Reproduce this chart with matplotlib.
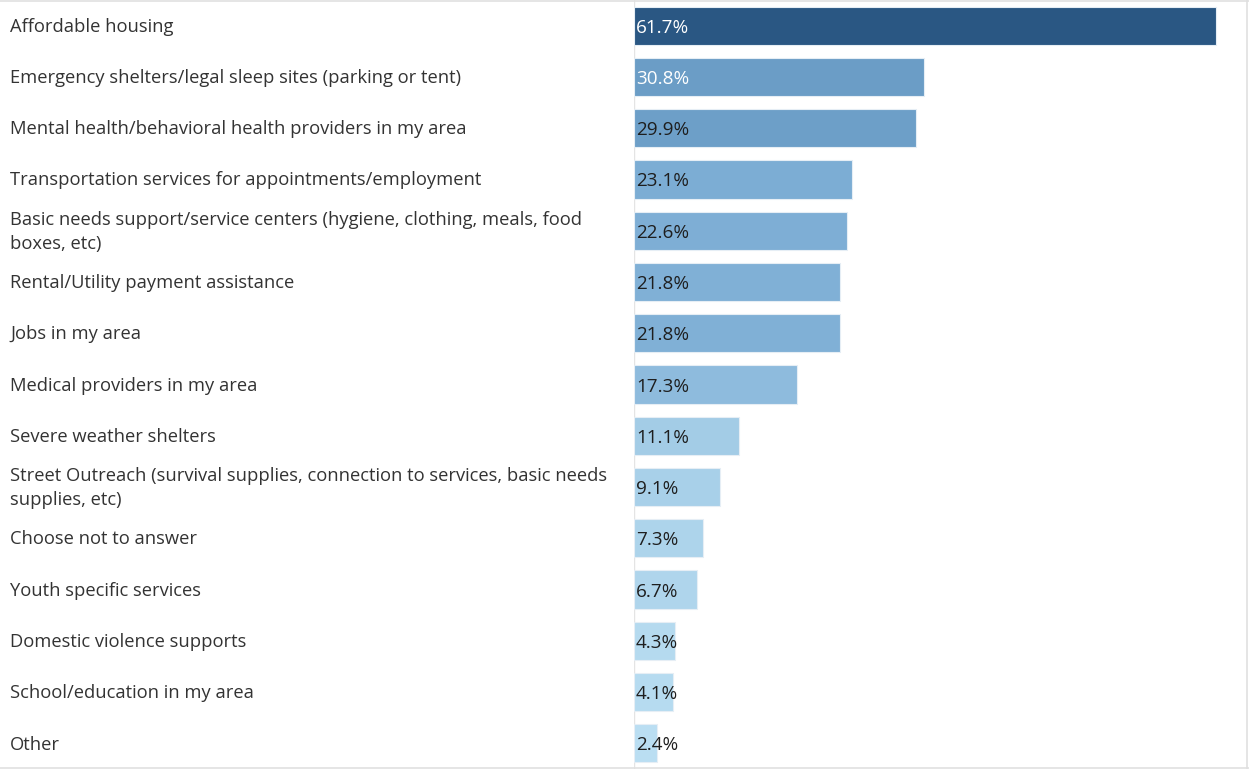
import matplotlib
matplotlib.use("Agg")
import matplotlib.pyplot as plt
from matplotlib.colors import LinearSegmentedColormap, Normalize
from matplotlib.lines import Line2D

categories = [
    "Affordable housing",
    "Emergency shelters/legal sleep sites (parking or tent)",
    "Mental health/behavioral health providers in my area",
    "Transportation services for appointments/employment",
    "Basic needs support/service centers (hygiene, clothing, meals, food\nboxes, etc)",
    "Rental/Utility payment assistance",
    "Jobs in my area",
    "Medical providers in my area",
    "Severe weather shelters",
    "Street Outreach (survival supplies, connection to services, basic needs\nsupplies, etc)",
    "Choose not to answer",
    "Youth specific services",
    "Domestic violence supports",
    "School/education in my area",
    "Other",
]
values = [61.7, 30.8, 29.9, 23.1, 22.6, 21.8, 21.8, 17.3, 11.1, 9.1, 7.3, 6.7, 4.3, 4.1, 2.4]

W, H, DPI = 1249, 769, 100
fig = plt.figure(figsize=(W / DPI, H / DPI), dpi=DPI)
fig.patch.set_facecolor("white")

# plot area: bars start right after the label column
ax_left, ax_right = 634 / W, 1247 / W
ax = fig.add_axes([ax_left, 0.0, ax_right - ax_left, 1.0])

cmap = LinearSegmentedColormap.from_list(
    "blues",
    [(0.0, "#BADEF2"), (0.15, "#A2CBE6"), (0.33, "#7FAFD6"),
     (0.48, "#6B9DC6"), (1.0, "#2A5783")],
)
norm = Normalize(vmin=min(values), vmax=max(values))
colors = [cmap(norm(v)) for v in values]

y = list(range(len(categories)))
ax.barh(y, values, height=0.745, color=colors, edgecolor="#E6EEF5", linewidth=0.8, zorder=2)

ax.set_xlim(0, 65.0)
ax.set_ylim(len(categories) - 0.5, -0.5)
ax.axis("off")

# axis baseline
ax.axvline(0, color="#E4E4E4", linewidth=1.0, zorder=1)

font = ["Open Sans", "DejaVu Sans"]
for i, (v, cat) in enumerate(zip(values, categories)):
    tc = "white" if v > 30 else "#1E1E1E"
    ax.text(0.2, i, f"{v:.1f}%", va="center_baseline", ha="left", fontsize=13.6,
            color=tc, family=font, zorder=3)
    fig.text(10 / W, 1 - (26.5 + 51.29 * i) / H, cat, va="center", ha="left",
             fontsize=13.2, color="#333333", family=font, linespacing=1.45)

# thin frame on top, right and bottom
frame = "#E0E0E0"
fig.add_artist(Line2D([0, 1], [1 - 0.5 / H, 1 - 0.5 / H], color=frame, lw=1.2, transform=fig.transFigure))
fig.add_artist(Line2D([0, 1], [1.5 / H, 1.5 / H], color=frame, lw=1.2, transform=fig.transFigure))
fig.add_artist(Line2D([1246.5 / W, 1246.5 / W], [0, 1], color=frame, lw=1.2, transform=fig.transFigure))

fig.savefig("out.png", dpi=DPI, facecolor="white")
